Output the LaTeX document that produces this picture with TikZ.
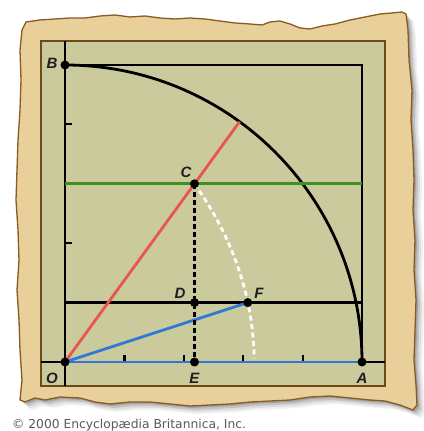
\documentclass[tikz,border=0pt]{standalone}
\usepackage{fontspec}
\setmainfont{Liberation Sans}
\newfontfamily\dvfont{DejaVu Sans}
\definecolor{parch}{HTML}{E9D09A}
\definecolor{parchedge}{HTML}{8A5A25}
\definecolor{panel}{HTML}{CBCA9D}
\definecolor{frame}{HTML}{6E4A18}
\definecolor{redl}{HTML}{E8564C}
\definecolor{greenl}{HTML}{3E9020}
\definecolor{bluel}{HTML}{2F78D8}
\definecolor{labc}{HTML}{1E1E1E}
\tikzset{
  geo/.style={line width=2.8pt, line cap=butt},
  pt/.style={circle, fill=black, inner sep=0pt, minimum size=9pt},
  lab/.style={font=\fontsize{15}{15}\selectfont\bfseries\itshape, text=labc, inner sep=0pt},
  tick/.style={line width=2.2pt}
}
\begin{document}
\begin{tikzpicture}[x=1pt,y=1pt]
\useasboundingbox (0,0) rectangle (423,431);
\def\parchpath{(22,401) -- (26,409) -- (40,411) -- (55,412) -- (70,413) -- (85,413) -- (100,415) -- (115,416) -- (130,414) -- (145,415) -- (160,413) -- (175,412) -- (190,413) -- (205,412) -- (220,410) -- (235,408) -- (250,407) -- (262,406) -- (270,409) -- (280,410) -- (290,407) -- (300,403) -- (310,402) -- (322,405) -- (335,407) -- (350,411) -- (365,414) -- (380,417) -- (392,418) -- (402,419) -- (406,417)
 -- (408,401) -- (409,371) -- (412,341) -- (411,311) -- (413,281) -- (414,251) -- (413,221) -- (415,191) -- (414,161) -- (416,131) -- (415,101) -- (414,71) -- (416,46) -- (417,26) -- (413,21)
 -- (400,26) -- (385,30) -- (370,31) -- (350,33) -- (330,35) -- (310,34) -- (290,31) -- (270,30) -- (250,29) -- (230,27) -- (210,26) -- (190,25) -- (170,27) -- (150,29) -- (130,29) -- (110,27) -- (95,29) -- (80,33) -- (60,34) -- (45,31) -- (35,33) -- (25,29) -- (20,31)
 -- (22,51) -- (20,81) -- (19,111) -- (17,141) -- (19,171) -- (18,201) -- (16,231) -- (17,261) -- (18,291) -- (20,321) -- (21,351) -- (20,381) -- cycle}
% shadow
\foreach \d/\o in {8/0.06,6/0.08,4/0.12,2/0.16}{
  \fill[black, opacity=\o, shift={(\d,-\d)}] \parchpath;
}
\fill[parch] \parchpath;
\draw[parchedge, line width=1.3pt, line join=round] \parchpath;
% panel
\fill[panel] (41,45) rectangle (385,390);
\draw[frame, line width=2.2pt] (41,45) rectangle (385,390);
% key points
\coordinate (O) at (65,69);
\coordinate (A) at (362,69);
\coordinate (B) at (65,366);
\coordinate (K) at (362,366);
\coordinate (C) at (194.5,247.2);
\coordinate (D) at (194.5,128.4);
\coordinate (E) at (194.5,69);
\coordinate (F) at (247.8,128.4);
\coordinate (R) at (239.6,309.3);
\coordinate (axT) at (65,390);
\coordinate (axB) at (65,45);
\coordinate (axL) at (41,69);
\coordinate (axR) at (385,69);
\coordinate (gR) at (362,247.2);
\coordinate (gL) at (65,247.2);
\coordinate (dL) at (65,128.4);
\coordinate (dR) at (362,128.4);
% axes and square
\draw[geo] (axB) -- (axT);
\draw[geo] (axL) -- (axR);
\draw[geo] (B) -- (K) -- (A);
% ticks
\foreach \k in {1,2,3,4}{
  \draw[tick] ({65+59.4*\k},69) -- ++(0,6.5);
}
\foreach \k in {2,4}{
  \draw[tick] (65,{69+59.4*\k}) -- ++(6.5,0);
}
% arc
\draw[geo] (A) arc[start angle=0, end angle=90, radius=297];
% horizontal lines
\draw[geo, greenl] (gL) -- (gR);
\draw[geo] (dL) -- (dR);
% red and blue
\draw[geo, redl] (O) -- (R);
\draw[geo, bluel] (O) -- (F);
\draw[geo, bluel] (O) -- (A);
% quadratrix
\draw[white, line width=2.8pt, dash pattern=on 5pt off 3.5pt]
  plot[domain=0.6:0.012, samples=50, smooth] ({65+297*\x/tan(90*\x)}, {69+297*\x});
% dashed CE
\draw[line width=2.4pt, dash pattern=on 5pt off 3pt] (C) -- (E);
% points
\foreach \p in {O,A,B,C,D,E,F}{ \node[pt] (n\p) at (\p) {}; }
% labels
\node[lab] (lB) at (52,368) {B};
\node[lab] (lO) at (52,53) {O};
\node[lab] (lE) at (194.5,53) {E};
\node[lab] (lA) at (362,53) {A};
\node[lab] (lC) at (186,259) {C};
\node[lab] (lD) at (180,138) {D};
\node[lab] (lF) at (259,138) {F};
% copyright
\node[anchor=base west, inner sep=0pt, text=black!65, font=\dvfont\fontsize{12.3}{13}\selectfont] (copy) at (12,2) {© 2000 Encyclopædia Britannica, Inc.};
\end{tikzpicture}
\end{document}
